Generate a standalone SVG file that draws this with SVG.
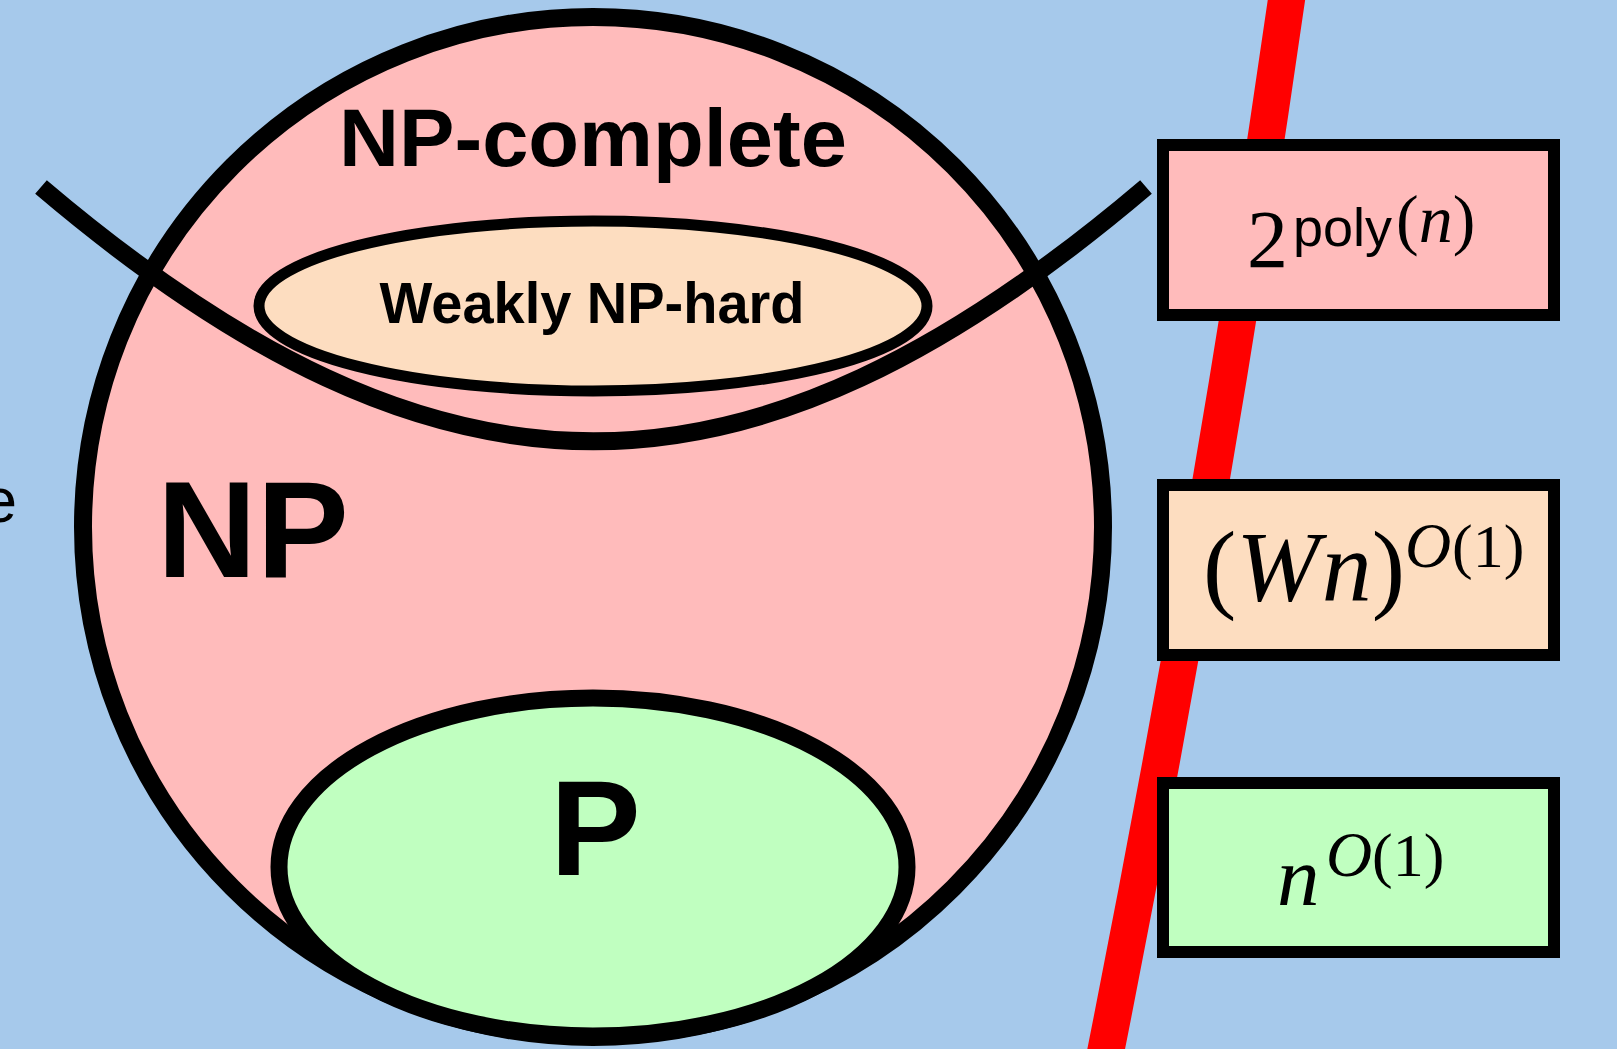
<svg xmlns="http://www.w3.org/2000/svg" width="1617" height="1049" viewBox="0 0 1617 1049">
<style>
.bg{fill:#A6C9EB}
.pink{fill:#FFBBBB}
.peach{fill:#FDDDC0}
.green{fill:#C0FFC0}
.lbl{font-family:"Liberation Sans",Arial,sans-serif;font-weight:bold;fill:#000}
.math{font-family:"Liberation Serif","DejaVu Serif",serif;fill:#000}
.it{font-style:italic}
.sans{font-family:"Liberation Sans",Arial,sans-serif}
.box{stroke:#000;stroke-width:12}
</style>
<rect class="bg" x="0" y="0" width="1617" height="1049"/>
<text x="-18" y="522" font-family="Liberation Sans, Arial, sans-serif" font-size="63" fill="#000">e</text>
<g id="connectors">
  <path id="red-line" d="M1290,-25 Q1216,497 1104,1060" stroke="#FF0000" stroke-width="37" fill="none"/>
</g>
<g id="np">
  <circle class="pink" cx="593" cy="527" r="510" stroke="#000" stroke-width="18"/>
  <text class="lbl" x="157" y="577" font-size="138">NP</text>
</g>
<g id="weakly-np-hard">
  <ellipse class="peach" cx="593" cy="306" rx="334" ry="85" stroke="#000" stroke-width="11"/>
  <text class="lbl" x="592" y="323" font-size="58" text-anchor="middle" textLength="425" lengthAdjust="spacingAndGlyphs">Weakly NP-hard</text>
</g>
<g id="p">
  <ellipse class="green" cx="593" cy="867" rx="314" ry="169" stroke="#000" stroke-width="17"/>
  <text class="lbl" x="550" y="875" font-size="136">P</text>
</g>
<g id="np-complete">
  <path id="np-hard-boundary" d="M41,187 C440,526 747,526 1146,187" stroke="#000" stroke-width="18" fill="none"/>
  <text class="lbl" x="593" y="166" font-size="82" text-anchor="middle" textLength="508" lengthAdjust="spacingAndGlyphs">NP-complete</text>
</g>
<g id="box-exp">
  <rect class="pink box" x="1163" y="145" width="391" height="170"/>
  <text class="math"><tspan x="1247" y="267" font-size="82">2</tspan><tspan class="sans" x="1293" y="246" font-size="54">poly</tspan><tspan x="1396" y="242" font-size="68">(</tspan><tspan class="it" font-size="68">n</tspan><tspan font-size="68">)</tspan></text>
</g>
<g id="box-pseudo">
  <rect class="peach box" x="1163" y="485" width="391" height="170"/>
  <text class="math"><tspan x="1203" y="600" font-size="100">(</tspan><tspan class="it" font-size="100">W</tspan><tspan class="it" font-size="100" dx="2">n</tspan><tspan font-size="100">)</tspan><tspan class="it" x="1405" y="567" font-size="64">O</tspan><tspan x="1452" y="567" font-size="62">(1)</tspan></text>
</g>
<g id="box-poly">
  <rect class="green box" x="1163" y="783" width="391" height="169"/>
  <text class="math"><tspan class="it" x="1277" y="905" font-size="85">n</tspan><tspan class="it" x="1326" y="876" font-size="64">O</tspan><tspan x="1372" y="876" font-size="62">(1)</tspan></text>
</g>
</svg>
